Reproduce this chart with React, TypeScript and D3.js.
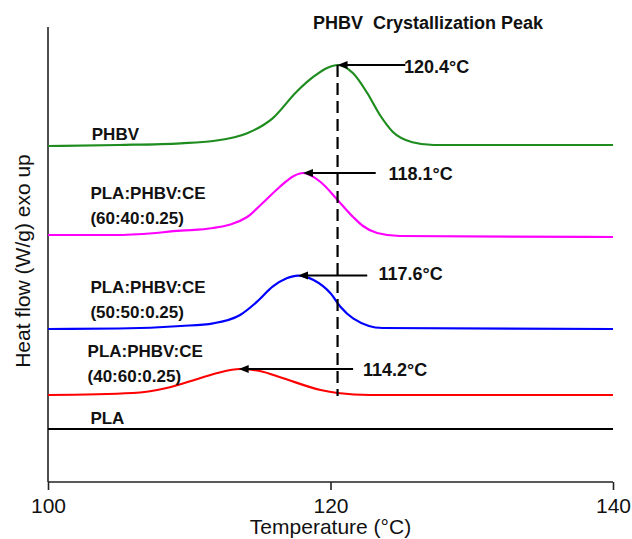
import React, { useRef, useEffect } from 'react';
import * as d3 from 'd3';

// temperatures (°C) and heat flow readings (arbitrary units, exo up)
const phbvT = [100, 105, 109.4, 111.7, 114.1, 115.9, 117.6, 118.8, 119.8, 120.5, 121.6, 122.6, 123.5, 124.4, 125.8, 127.3, 140];
const phbvHF = [33.6, 33.7, 33.87, 34.1, 34.87, 36.37, 39.03, 40.53, 41.43, 41.7, 40.87, 38.9, 36.7, 35.03, 33.98, 33.7, 33.7];

const b6040T = [100, 105, 109.4, 111.7, 114.1, 115.2, 116.4, 117.4, 118.05, 119.3, 120.5, 121.6, 122.3, 123.3, 124.9, 140];
const b6040HF = [24.7, 24.7, 25.13, 25.4, 26.5, 27.9, 29.5, 30.6, 30.9, 30.0, 28.2, 26.5, 25.6, 24.9, 24.6, 24.5];

const b5050T = [100, 105, 109.4, 111.7, 113.6, 114.8, 115.9, 116.9, 117.7, 118.8, 120.0, 120.7, 121.6, 123.7, 140];
const b5050HF = [15.3, 15.35, 15.6, 15.87, 16.7, 18.03, 19.53, 20.37, 20.64, 20.2, 18.87, 17.53, 16.37, 15.4, 15.3];

const b4060T = [100, 106.0, 108.4, 110.8, 112.0, 113.6, 115.0, 116.6, 119.3, 120.5, 122.8, 140];
const b4060HF = [8.7, 8.9, 9.4, 10.4, 10.9, 11.3, 11.1, 10.4, 9.2, 8.9, 8.7, 8.7];

const plaT = [100, 140];
const plaHF = [5.3, 5.3];

const seriesColors = ['#1e8c1e', '#ff00ff', '#0000ff', '#ff0000', '#000000'];

// peak annotations
const peakLabels = ['120.4°C', '118.1°C', '117.6°C', '114.2°C'];
const peakT = [120.5, 118.05, 117.7, 113.5];
const peakHF = [41.7, 30.9, 20.64, 11.3];
const arrowEndT = [125.3, 123.2, 122.6, 121.6];
const labelT = [125.2, 124.1, 123.4, 122.3];
const labelHF = [40.9, 30.2, 20.2, 10.6];

// sample labels
const sampleLine1 = ['PHBV', 'PLA:PHBV:CE', 'PLA:PHBV:CE', 'PLA:PHBV:CE', 'PLA'];
const sampleLine2 = ['', '(60:40:0.25)', '(50:50:0.25)', '(40:60:0.25)', ''];
const sampleLabelT = [103.1, 103.0, 103.0, 102.8, 103.0];
const sampleLabelHF = [34.2, 28.3, 18.9, 12.5, 5.8];

const xTicks = [100, 120, 140];

const App = () => {
  const svgRef = useRef(null);
  const width = 632;
  const height = 539;

  useEffect(() => {
    const svg = d3.select(svgRef.current);
    svg.selectAll('*').remove();

    const x = d3.scaleLinear().domain([100, 140]).range([48, 613]);
    const y = d3.scaleLinear().domain([0, 45.5]).range([482, 27]);

    const series = [
      [phbvT, phbvHF],
      [b6040T, b6040HF],
      [b5050T, b5050HF],
      [b4060T, b4060HF],
      [plaT, plaHF],
    ];

    const line = d3
      .line()
      .x((d) => x(d[0]))
      .y((d) => y(d[1]))
      .curve(d3.curveMonotoneX);

    // axes
    svg.append('line')
      .attr('x1', x(100)).attr('x2', x(100))
      .attr('y1', y(45.5)).attr('y2', y(0))
      .attr('stroke', '#222').attr('stroke-width', 1.6);

    const xAxis = svg.append('g').attr('transform', `translate(0,${y(0)})`)
      .call(d3.axisBottom(x).tickValues(xTicks).tickSize(8).tickPadding(8).tickFormat(d3.format('d')));
    xAxis.select('.domain').attr('stroke', '#222').attr('stroke-width', 1.6).attr('d', `M${x(100)},0H${x(140)}`);
    xAxis.selectAll('.tick line').attr('stroke', '#222').attr('stroke-width', 1.6);
    xAxis.selectAll('.tick text')
      .attr('font-family', 'Liberation Sans, Arial, sans-serif')
      .attr('font-size', 21)
      .attr('fill', '#111');

    svg.append('text')
      .attr('x', (x(100) + x(140)) / 2)
      .attr('y', 534)
      .attr('text-anchor', 'middle')
      .attr('font-family', 'Liberation Sans, Arial, sans-serif')
      .attr('font-size', 21)
      .attr('fill', '#111')
      .text('Temperature (°C)');

    svg.append('text')
      .attr('transform', `translate(30,261) rotate(-90)`)
      .attr('text-anchor', 'middle')
      .attr('font-family', 'Liberation Sans, Arial, sans-serif')
      .attr('font-size', 21)
      .attr('fill', '#111')
      .text('Heat flow (W/g) exo up');

    // curves
    series.forEach(([ts, hs], i) => {
      svg.append('path')
        .datum(ts.map((t, j) => [t, hs[j]]))
        .attr('d', line)
        .attr('fill', 'none')
        .attr('stroke', seriesColors[i])
        .attr('stroke-width', 2.2);
    });

    // dashed peak line
    svg.append('line')
      .attr('x1', x(peakT[0])).attr('x2', x(peakT[0]))
      .attr('y1', y(peakHF[0])).attr('y2', y(b4060HF[b4060HF.length - 1] - 0.1))
      .attr('stroke', '#000').attr('stroke-width', 2.2)
      .attr('stroke-dasharray', '12,6');

    // arrows
    peakT.forEach((t, i) => {
      const px = x(t);
      const py = y(peakHF[i]);
      svg.append('line')
        .attr('x1', px + 6).attr('x2', x(arrowEndT[i]))
        .attr('y1', py).attr('y2', py)
        .attr('stroke', '#000').attr('stroke-width', 2);
      svg.append('path')
        .attr('d', `M${px},${py}L${px + 10},${py - 4}L${px + 10},${py + 4}Z`)
        .attr('fill', '#000');
      svg.append('text')
        .attr('x', x(labelT[i]))
        .attr('y', y(labelHF[i]))
        .attr('font-family', 'Liberation Sans, Arial, sans-serif')
        .attr('font-weight', 'bold')
        .attr('font-size', 18)
        .attr('fill', '#111')
        .text(peakLabels[i]);
    });

    // sample labels
    sampleLine1.forEach((s, i) => {
      const t = svg.append('text')
        .attr('x', x(sampleLabelT[i]))
        .attr('y', y(sampleLabelHF[i]))
        .attr('font-family', 'Liberation Sans, Arial, sans-serif')
        .attr('font-weight', 'bold')
        .attr('font-size', 17)
        .attr('fill', '#111');
      t.append('tspan').text(s);
      if (sampleLine2[i]) {
        t.append('tspan').attr('x', x(sampleLabelT[i])).attr('dy', 24.5).text(sampleLine2[i]);
      }
    });

    // title
    svg.append('text')
      .attr('x', 313)
      .attr('y', 29)
      .attr('font-family', 'Liberation Sans, Arial, sans-serif')
      .attr('font-weight', 'bold')
      .attr('font-size', 18)
      .attr('fill', '#111')
      .style('white-space', 'pre')
      .text('PHBV  Crystallization Peak');
  }, []);

  return (
    <div>
      <svg
        ref={svgRef}
        width={width}
        height={height}
        style={{ position: 'absolute', left: 0, top: 0, background: '#fff' }}
      ></svg>
    </div>
  );
};

export default App;
